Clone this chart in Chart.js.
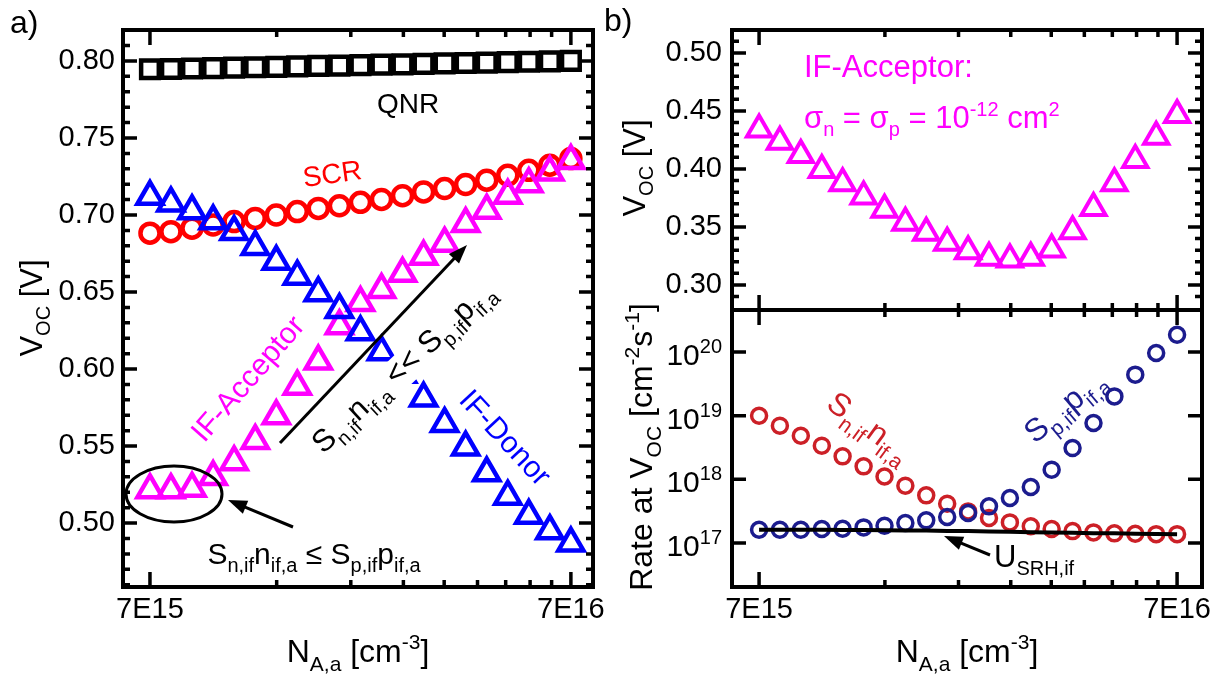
<!DOCTYPE html>
<html>
<head>
<meta charset="utf-8">
<script src="https://cdn.jsdelivr.net/npm/chart.js@4.4.1/dist/chart.umd.min.js"></script>
<style>
  html, body { margin: 0; padding: 0; background: #fff; }
  #wrap { position: relative; width: 1226px; height: 677px; }
  #wrap canvas { position: absolute; left: 0; top: 0; }
</style>
</head>
<body>
<div id="wrap">
  <canvas id="chartA" width="1226" height="677"></canvas>
  <canvas id="chartB1" width="1226" height="677"></canvas>
  <canvas id="chartB2" width="1226" height="677"></canvas>
</div>
<script>
// N_A,a in cm^-3 (21 steps from 7E15 to 7E16, log spaced)
const doping = [7.00e15, 7.85e15, 8.81e15, 9.89e15, 1.109e16, 1.245e16, 1.397e16, 1.567e16, 1.758e16, 1.973e16,
  2.214e16, 2.484e16, 2.787e16, 3.127e16, 3.508e16, 3.936e16, 4.417e16, 4.956e16, 5.560e16, 6.239e16, 7.00e16];

// panel a) Voc [V]
const vocQNR = [0.7946, 0.7948, 0.7951, 0.7954, 0.7957, 0.7959, 0.7962, 0.7965, 0.7968, 0.7970, 0.7973,
  0.7976, 0.7978, 0.7981, 0.7984, 0.7987, 0.7989, 0.7992, 0.7995, 0.7997, 0.8000];
const vocSCR = [0.6882, 0.6892, 0.6914, 0.6935, 0.6957, 0.6978, 0.7000, 0.7022, 0.7043, 0.7060, 0.7082,
  0.7101, 0.7125, 0.7150, 0.7172, 0.7198, 0.7226, 0.7258, 0.7290, 0.7323, 0.7366];
const vocDonor = [0.712, 0.7077, 0.7026, 0.6961, 0.6891, 0.6794, 0.6698, 0.6601, 0.6494, 0.6385, 0.624,
  0.611, 0.5965, 0.581, 0.5645, 0.5492, 0.5325, 0.5173, 0.5049, 0.4949, 0.4869];
const vocAcceptor = [0.5215, 0.5215, 0.5225, 0.530, 0.5397, 0.5535, 0.5695, 0.5887, 0.605, 0.628, 0.643,
  0.6515, 0.662, 0.673, 0.6815, 0.6944, 0.703, 0.7127, 0.7202, 0.7277, 0.7352];

// panel b) IF-Acceptor with sigma = 1e-12
const vocAccB = [0.434, 0.4234, 0.412, 0.3991, 0.3877, 0.3763, 0.3649, 0.3537, 0.3449, 0.3363, 0.3291,
  0.3234, 0.322, 0.3234, 0.3306, 0.3463, 0.3663, 0.3877, 0.4077, 0.4277, 0.4466];
const rateSn = [1.00e19, 6.97e18, 4.85e18, 3.38e18, 2.30e18, 1.60e18, 1.11e18, 7.96e17, 5.61e17, 4.15e17, 3.14e17,
  2.47e17, 2.11e17, 1.83e17, 1.66e17, 1.54e17, 1.47e17, 1.42e17, 1.40e17, 1.38e17, 1.38e17];
const rateSp = [1.62e17, 1.62e17, 1.62e17, 1.66e17, 1.68e17, 1.76e17, 1.87e17, 2.06e17, 2.27e17, 2.56e17, 2.96e17,
  3.77e17, 5.09e17, 7.59e17, 1.42e18, 3.10e18, 7.67e18, 2.01e19, 4.41e19, 9.64e19, 1.87e20];
const rateUsrh = [1.62e17, 1.62e17, 1.61e17, 1.61e17, 1.60e17, 1.60e17, 1.59e17, 1.58e17, 1.57e17, 1.55e17, 1.54e17,
  1.52e17, 1.50e17, 1.48e17, 1.46e17, 1.45e17, 1.43e17, 1.42e17, 1.40e17, 1.39e17, 1.38e17];

// ticks
const xTicks = [7e15, 1.4e16, 2.1e16, 2.8e16, 3.5e16, 4.2e16, 4.9e16, 5.6e16, 6.3e16, 7e16];
const xTickLabels = ['7E15', '', '', '', '', '', '', '', '', '7E16'];
const vocTicksA = [0.46, 0.47, 0.48, 0.49, 0.50, 0.51, 0.52, 0.53, 0.54, 0.55, 0.56, 0.57, 0.58, 0.59, 0.60,
  0.61, 0.62, 0.63, 0.64, 0.65, 0.66, 0.67, 0.68, 0.69, 0.70, 0.71, 0.72, 0.73, 0.74, 0.75, 0.76, 0.77,
  0.78, 0.79, 0.80, 0.81, 0.82];
const vocTicksB = [0.28, 0.29, 0.30, 0.31, 0.32, 0.33, 0.34, 0.35, 0.36, 0.37, 0.38, 0.39, 0.40, 0.41,
  0.42, 0.43, 0.44, 0.45, 0.46, 0.47, 0.48, 0.49, 0.50, 0.51];
const rateTicks = [1e17, 1e18, 1e19, 1e20];
const rateTickExp = ['17', '18', '19', '20'];

const FONT = '"Liberation Sans", Arial, Helvetica, sans-serif';
const RED2 = '#cc2027';
const NAVY = '#1c1c8e';
Chart.defaults.font.family = FONT;

function pts(ys) {
  return doping.map((x, i) => ({ x, y: ys[i] }));
}

function markers(label, ys, color, style, radius, width) {
  return {
    label, data: pts(ys), showLine: false, clip: false,
    pointStyle: style, pointRadius: radius, pointBorderWidth: width,
    pointBorderColor: color, pointBackgroundColor: 'rgba(0,0,0,0)',
    borderColor: color, backgroundColor: 'rgba(0,0,0,0)'
  };
}

// text with sub/superscripts: parts = [[text, 0|-1|1], ...]
function rich(ctx, parts, x, y, o) {
  const size = o.size || 30;
  const small = Math.round(size * 0.66);
  const color = o.color || '#000';
  ctx.save();
  ctx.translate(x, y);
  ctx.rotate((o.angle || 0) * Math.PI / 180);
  ctx.textBaseline = 'alphabetic';
  ctx.textAlign = 'left';
  let w = 0;
  parts.forEach(([t, k]) => { ctx.font = (k ? small : size) + 'px ' + FONT; w += ctx.measureText(t).width; });
  let cx = o.align === 'left' ? 0 : o.align === 'right' ? -w : -w / 2;
  const by = o.middle ? size * 0.36 : 0;
  if (o.bg) {
    ctx.fillStyle = o.bg;
    ctx.fillRect(cx - 2, by - size * 0.78, w + 4, size * 1.05);
  }
  ctx.fillStyle = color;
  parts.forEach(([t, k]) => {
    ctx.font = (k ? small : size) + 'px ' + FONT;
    const dy = k === -1 ? size * 0.27 : k === 1 ? -size * 0.4 : 0;
    ctx.fillText(t, cx, by + dy);
    cx += ctx.measureText(t).width;
  });
  ctx.restore();
}

function arrow(ctx, x1, y1, x2, y2) {
  const a = Math.atan2(y2 - y1, x2 - x1);
  const hl = 19, hw = 7;
  ctx.save();
  ctx.strokeStyle = '#000';
  ctx.fillStyle = '#000';
  ctx.lineWidth = 3;
  ctx.beginPath();
  ctx.moveTo(x1, y1);
  ctx.lineTo(x2 - Math.cos(a) * hl * 0.8, y2 - Math.sin(a) * hl * 0.8);
  ctx.stroke();
  ctx.beginPath();
  ctx.moveTo(x2, y2);
  ctx.lineTo(x2 - Math.cos(a) * hl - Math.sin(a) * hw, y2 - Math.sin(a) * hl + Math.cos(a) * hw);
  ctx.lineTo(x2 - Math.cos(a) * hl + Math.sin(a) * hw, y2 - Math.sin(a) * hl - Math.cos(a) * hw);
  ctx.closePath();
  ctx.fill();
  ctx.restore();
}

const isMajorX = v => Math.abs(v / 7e15 - 1) < 1e-6 || Math.abs(v / 7e16 - 1) < 1e-6;
const isMajorVoc = v => Math.round(v * 100) % 5 === 0;

// inward ticks on all four sides plus the box
function framePlugin(majorY) {
  return {
    id: 'frame',
    afterDraw(chart) {
      const { ctx, chartArea: a } = chart;
      const xs = chart.scales.x, ys = chart.scales.y;
      ctx.save();
      ctx.strokeStyle = '#000';
      ctx.lineWidth = 3.5;
      ctx.beginPath();
      xs.ticks.forEach(t => {
        const p = xs.getPixelForValue(t.value);
        const l = isMajorX(t.value) ? 15 : 7;
        ctx.moveTo(p, a.top); ctx.lineTo(p, a.top + l);
        ctx.moveTo(p, a.bottom); ctx.lineTo(p, a.bottom - l);
      });
      ys.ticks.forEach(t => {
        const p = ys.getPixelForValue(t.value);
        if (p < a.top + 2 || p > a.bottom - 2) return;
        const l = majorY(t.value) ? 14 : 7;
        ctx.moveTo(a.left, p); ctx.lineTo(a.left + l, p);
        ctx.moveTo(a.right, p); ctx.lineTo(a.right - l, p);
      });
      ctx.stroke();
      ctx.lineWidth = 4;
      ctx.strokeRect(a.left, a.top, a.right - a.left, a.bottom - a.top);
      ctx.restore();
    }
  };
}

function notesPlugin(draw) {
  return { id: 'notes', afterDatasetsDraw(chart) { draw(chart.ctx, chart); } };
}

const tickFont = { family: FONT, size: 29 };

function xScale(min, max, showLabels, height) {
  return {
    type: 'logarithmic', min, max, bounds: 'data',
    afterBuildTicks: s => { s.ticks = xTicks.map(v => ({ value: v })); },
    afterFit: s => { s.height = height; },
    grid: { display: false, drawTicks: false },
    border: { display: false },
    ticks: {
      display: showLabels, autoSkip: false, maxRotation: 0, padding: 6,
      color: '#000', font: tickFont,
      callback: (v, i) => xTickLabels[i]
    }
  };
}

const common = {
  responsive: false,
  animation: false,
  devicePixelRatio: 1,
  events: []
};

// ---------- panel a ----------
new Chart(document.getElementById('chartA'), {
  type: 'scatter',
  data: {
    datasets: [
      markers('QNR', vocQNR, '#000000', 'rect', 12.5, 4.5),
      markers('IF-Donor', vocDonor, '#0000ff', 'triangle', 14.5, 4.5),
      markers('IF-Acceptor', vocAcceptor, '#ff00ff', 'triangle', 14.5, 4.5),
      markers('SCR', vocSCR, '#ff0000', 'circle', 9.5, 4.5)
    ]
  },
  options: {
    ...common,
    layout: { padding: { left: 0, top: 30, right: 633, bottom: 0 } },
    plugins: { legend: { display: false }, tooltip: { enabled: false } },
    scales: {
      x: xScale(6.04e15, 7.9e16, true, 90),
      y: {
        type: 'linear', min: 0.4585, max: 0.8201, bounds: 'data',
        afterBuildTicks: s => { s.ticks = vocTicksA.map(v => ({ value: v })); },
        afterFit: s => { s.width = 123; },
        grid: { display: false, drawTicks: false },
        border: { display: false },
        ticks: {
          autoSkip: false, padding: 8, color: '#000', font: tickFont,
          callback: v => isMajorVoc(v) ? v.toFixed(2) : ''
        }
      }
    }
  },
  plugins: [
    notesPlugin(ctx => {
      rich(ctx, [['a)', 0]], 10, 33, { size: 32, align: 'left' });
      rich(ctx, [['QNR', 0]], 408, 103, { size: 28, middle: true });
      rich(ctx, [['SCR', 0]], 332, 173, { size: 28, middle: true, angle: -8, color: '#ff0000' });
      rich(ctx, [['IF-Acceptor', 0]], 247, 378, { size: 30, middle: true, angle: -49, color: '#ff00ff' });
      rich(ctx, [['IF-Donor', 0]], 506, 437, { size: 30, middle: true, angle: 47, color: '#0000ff' });
      rich(ctx, [['S', 0], ['n,if', -1], ['n', 0], ['if,a', -1], [' << ', 0], ['S', 0], ['p,if', -1], ['p', 0], ['if,a', -1]],
        402, 366, { size: 31, middle: true, angle: -43, bg: '#ffffff' });
      arrow(ctx, 280, 443, 467, 245);
      ctx.save();
      ctx.strokeStyle = '#000';
      ctx.lineWidth = 3;
      ctx.beginPath();
      ctx.ellipse(174, 494, 48, 28, 0, 0, Math.PI * 2);
      ctx.stroke();
      ctx.restore();
      arrow(ctx, 293, 527, 228, 500);
      rich(ctx, [['S', 0], ['n,if', -1], ['n', 0], ['if,a', -1], [' \u2264 ', 0], ['S', 0], ['p,if', -1], ['p', 0], ['if,a', -1]],
        314, 553, { size: 30, middle: true });
      rich(ctx, [['N', 0], ['A,a', -1], [' [cm', 0], ['-3', 1], [']', 0]], 358, 662, { size: 32 });
      rich(ctx, [['V', 0], ['OC', -1], [' [V]', 0]], 42, 308, { size: 31, angle: -90 });
    }),
    framePlugin(isMajorVoc)
  ]
});

// ---------- panel b, top ----------
new Chart(document.getElementById('chartB1'), {
  type: 'scatter',
  data: {
    datasets: [markers('IF-Acceptor', vocAccB, '#ff00ff', 'triangle', 14, 4)]
  },
  options: {
    ...common,
    layout: { padding: { left: 600, top: 30, right: 24, bottom: 367 } },
    plugins: { legend: { display: false }, tooltip: { enabled: false } },
    scales: {
      x: xScale(6.03e15, 8.03e16, false, 0),
      y: {
        type: 'linear', min: 0.2784, max: 0.5198, bounds: 'data',
        afterBuildTicks: s => { s.ticks = vocTicksB.map(v => ({ value: v })); },
        afterFit: s => { s.width = 132; },
        grid: { display: false, drawTicks: false },
        border: { display: false },
        ticks: {
          autoSkip: false, padding: 10, color: '#000', font: tickFont,
          callback: v => isMajorVoc(v) ? v.toFixed(2) : ''
        }
      }
    }
  },
  plugins: [
    notesPlugin(ctx => {
      rich(ctx, [['b)', 0]], 604, 31, { size: 32, align: 'left' });
      rich(ctx, [['IF-Acceptor:', 0]], 804, 77, { size: 31, align: 'left', color: '#ff00ff' });
      rich(ctx, [['\u03c3', 0], ['n', -1], [' = \u03c3', 0], ['p', -1], [' = 10', 0], ['-12', 1], [' cm', 0], ['2', 1]],
        804, 128, { size: 31, align: 'left', color: '#ff00ff' });
      rich(ctx, [['V', 0], ['OC', -1], [' [V]', 0]], 645, 168, { size: 31, angle: -90 });
    }),
    framePlugin(isMajorVoc)
  ]
});

// ---------- panel b, bottom ----------
new Chart(document.getElementById('chartB2'), {
  type: 'scatter',
  data: {
    datasets: [
      { type: 'line', label: 'U_SRH,if', data: pts(rateUsrh), showLine: true, clip: false,
        borderColor: '#000', borderWidth: 4, pointRadius: 0, fill: false, tension: 0 },
      markers('Sp,if pif,a', rateSp, NAVY, 'circle', 7.5, 3.5),
      markers('Sn,if nif,a', rateSn, RED2, 'circle', 7.5, 3.5)
    ]
  },
  options: {
    ...common,
    layout: { padding: { left: 600, top: 310, right: 24, bottom: 0 } },
    plugins: { legend: { display: false }, tooltip: { enabled: false } },
    scales: {
      x: xScale(6.03e15, 8.03e16, true, 90),
      y: {
        type: 'logarithmic', min: 2.04e16, max: 4.57e20, bounds: 'data',
        afterBuildTicks: s => { s.ticks = rateTicks.map(v => ({ value: v })); },
        afterFit: s => { s.width = 132; },
        grid: { display: false, drawTicks: false },
        border: { display: false },
        ticks: { autoSkip: false, color: '#000', font: tickFont, callback: () => '' }
      }
    }
  },
  plugins: [
    notesPlugin((ctx, chart) => {
      const ys = chart.scales.y;
      rateTicks.forEach((v, i) => {
        rich(ctx, [['10', 0], [rateTickExp[i], 1]], 722, ys.getPixelForValue(v) + 13, { size: 30, align: 'right' });
      });
      rich(ctx, [['S', 0], ['n,if', -1], ['n', 0], ['if,a', -1]], 870, 426, { size: 32, middle: true, angle: 36, color: RED2 });
      rich(ctx, [['S', 0], ['p,if', -1], ['p', 0], ['if,a', -1]], 1064, 405, { size: 32, middle: true, angle: -40, color: NAVY });
      rich(ctx, [['U', 0], ['SRH,if', -1]], 994, 567, { size: 31, align: 'left' });
      arrow(ctx, 990, 555, 944, 536);
      rich(ctx, [['N', 0], ['A,a', -1], [' [cm', 0], ['-3', 1], [']', 0]], 967, 662, { size: 32 });
      rich(ctx, [['Rate at V', 0], ['OC', -1], [' [cm', 0], ['-2', 1], ['s', 0], ['-1', 1], [']', 0]], 652, 447, { size: 32, angle: -90 });
    }),
    framePlugin(() => true)
  ]
});
</script>
</body>
</html>
